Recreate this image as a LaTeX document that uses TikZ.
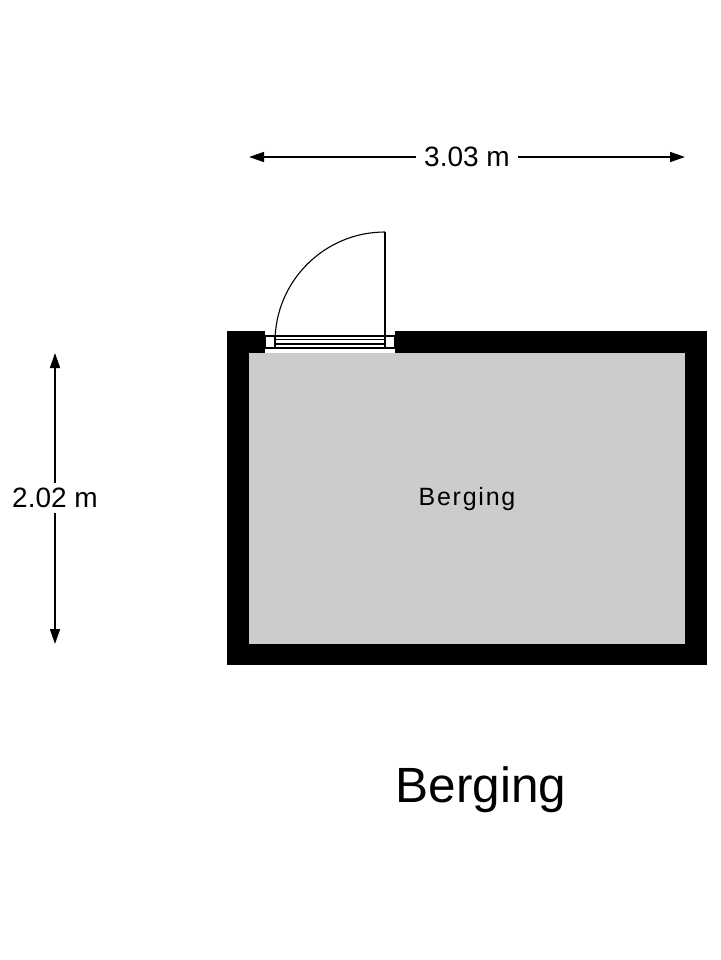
\documentclass[tikz,border=0pt]{standalone}
\usepackage{fontspec}
\setmainfont{Liberation Sans}
\usetikzlibrary{arrows.meta,calc}
\definecolor{roomgray}{RGB}{204,204,204}
\tikzset{
  wall/.style={fill=black, draw=none},
  room/.style={fill=roomgray, draw=none},
  dimline/.style={line width=1.5pt, {Triangle[length=15pt,width=10pt]}-{Triangle[length=15pt,width=10pt]}},
  dimlabel/.style={fill=white, inner xsep=8pt, inner ysep=5pt, font=\fontsize{28}{33}\selectfont},
  doorline/.style={line width=1.1pt, draw=black},
  roomlabel/.style={font=\fontsize{25}{29}\selectfont\addfontfeature{LetterSpace=7}},
  titlelabel/.style={font=\fontsize{49.5}{58}\selectfont}
}
\begin{document}
\begin{tikzpicture}[x=1pt,y=-1pt]
\useasboundingbox[fill=white] (0,0) rectangle (720,960);
% walls and room
\fill[wall] (227,331) rectangle (707,665);
\fill[room] (249,353) rectangle (685,644);
\fill[white] (265,331) rectangle (395,353);
% door frame
\draw[doorline] (265,336) rectangle (395,348);
\draw[doorline] (275,336) -- (275,348);
\draw[doorline] (385,336) -- (385,348);
\draw[doorline] (275,339.5) -- (385,339.5);
\draw[doorline] (275,344) -- (385,344);
% door leaf and swing
\draw[doorline] (385,348) -- (385,232);
\draw[doorline] (385,232) arc[start angle=-90, end angle=-180, radius=110];
% dimension horizontal
\coordinate (hL) at (249,157);
\coordinate (hR) at (685,157);
\draw[dimline] (hL) -- (hR);
\node[dimlabel] (hlab) at ($(hL)!0.5!(hR)$) {3.03 m};
% dimension vertical
\coordinate (vT) at (55,353);
\coordinate (vB) at (55,644);
\draw[dimline] (vT) -- (vB);
\node[dimlabel] (vlab) at (55,498) {2.02 m};
% labels
\node[roomlabel] (roomname) at (467,499.5) {Berging};
\node[titlelabel, anchor=base] (title) at (481,802) {Berging};
\end{tikzpicture}
\end{document}
